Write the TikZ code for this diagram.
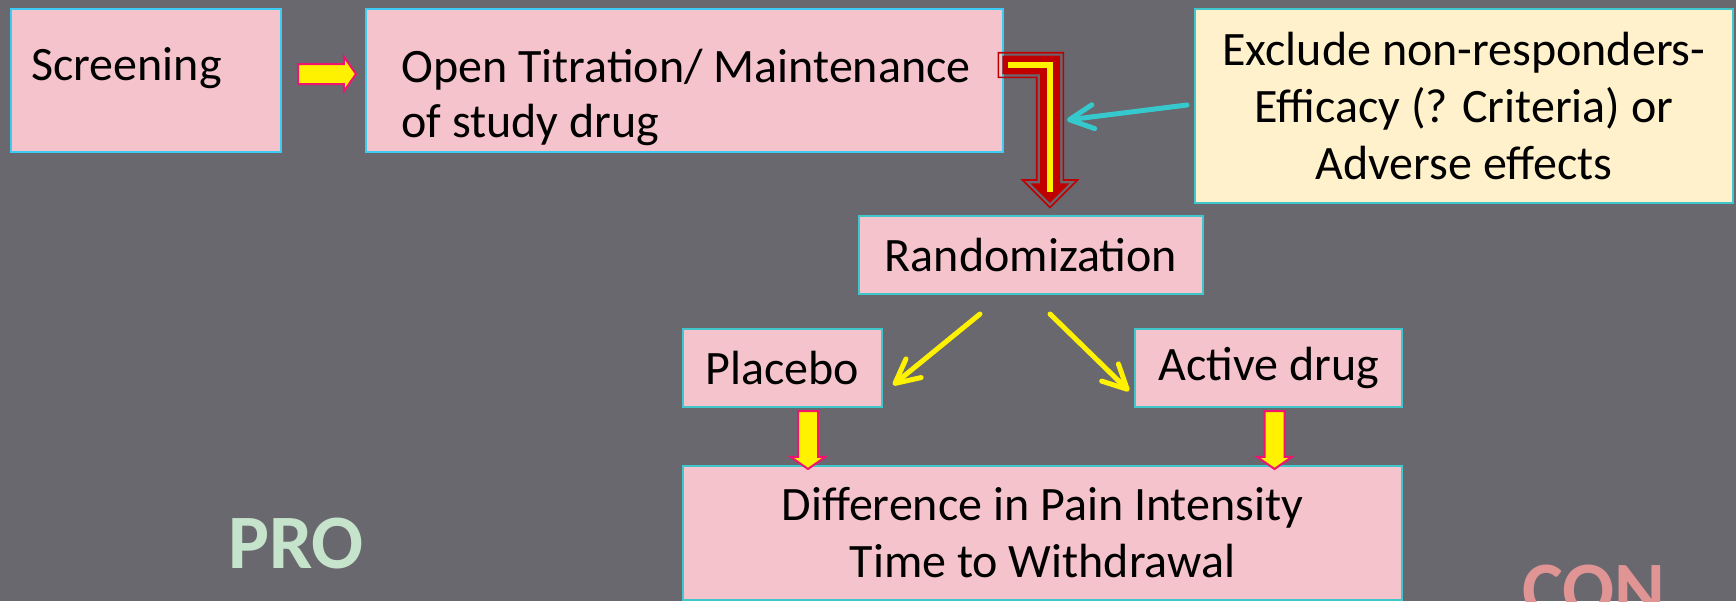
\documentclass[tikz,border=0pt]{standalone}
\usepackage{fontspec}
\setmainfont{Carlito}
\usetikzlibrary{positioning,calc,shapes.arrows,arrows.meta}

\definecolor{slidebg}{HTML}{69686E}
\definecolor{boxpink}{HTML}{F4C3CB}
\definecolor{bluebd}{HTML}{3CCBF4}
\definecolor{tealbd}{HTML}{3FC7CB}
\definecolor{creambox}{HTML}{FFF1CC}
\definecolor{arrpink}{HTML}{F0146E}
\definecolor{bentred}{HTML}{C00000}
\definecolor{linkcyan}{HTML}{35C9CD}
\definecolor{procol}{HTML}{C5E4CB}
\definecolor{concol}{HTML}{E09494}

\tikzset{
  box/.style={draw=tealbd, line width=1pt, fill=boxpink, inner sep=0pt, align=center, font=\fontsize{24}{28.5}\selectfont},
  boxtxt/.style={inner sep=0pt, font=\fontsize{24}{28.5}\selectfont},
  blockarr/.style={single arrow, draw=arrpink, fill=yellow, line width=1pt, inner xsep=0pt, inner ysep=4.5pt, single arrow head extend=3.75pt, single arrow tip angle=110, minimum height=29pt},
  yarr/.style={draw=yellow, line width=2.5pt, line cap=round, -{Straight Barb[round,length=12pt,width=12pt]}},
  carr/.style={draw=linkcyan, line width=2.5pt, line cap=round, -{Straight Barb[round,length=12pt,width=12pt]}},
  side/.style={font=\fontsize{38.5}{40}\selectfont\bfseries, inner sep=0pt, anchor=base}
}

\begin{document}
\begin{tikzpicture}[x=0.5pt,y=-0.5pt]
\useasboundingbox (0,0) rectangle (1736,601);
\fill[slidebg] (0,0) rectangle (1736,601);

%top row
\node[box, draw=bluebd, minimum width=135pt, minimum height=71.5pt] (scr) at (146,80.5) {};
\node[boxtxt, anchor=base west] (scrtxt) at ([xshift=10.5pt]scr.west) {Screening};
\node[box, draw=bluebd, minimum width=318.5pt, minimum height=71.5pt] (open) at (684.5,80.5) {};
\node[boxtxt, anchor=base west, align=left] (opentxt) at ([xshift=18pt,yshift=-28.5pt]open.west) {Open Titration/ Maintenance\\[-1pt]of study drug};
\node[box, fill=creambox, minimum width=269pt, minimum height=97pt] (excl) at (1464,106) {Exclude non-responders-\\Efficacy (? Criteria) or\\Adverse effects};

%middle
\node[box, minimum width=172pt, minimum height=39pt] (rand) at (1031,255) {Randomization};
\node[box, minimum width=99.5pt, minimum height=39pt] (plac) at (782.5,368) {Placebo};
\node[box, minimum width=133.5pt, minimum height=39pt] (act) at (1268.5,368) {Active drug};
\node[box, minimum width=359.5pt, minimum height=67pt] (diff) at (1042.5,533) {Difference in Pain Intensity\\Time to Withdrawal};

%block arrows
\node[blockarr] (a1) at ($(scr.east)!0.5!(open.west)+(0,-6.5)$) {};
\node[blockarr, rotate=-90] (a2) at ($(plac.south)!0.5!(plac.south |- diff.north)+(25.5,0)$) {};
\node[blockarr, rotate=-90] (a3) at ($(act.south)!0.5!(act.south |- diff.north)+(6,0)$) {};

%bent arrow
\draw[bentred, line width=0.8pt] (998.3,52.7) -- (1063.3,52.7) -- (1063.3,180) -- (1077.5,180) -- (1050,207.5) -- (1022.5,180) -- (1036.7,180) -- (1036.7,77.3) -- (998.3,77.3) -- cycle;
\fill[bentred] (1002.3,55.7) -- (1060,55.7) -- (1060,183.3) -- (1069.5,183.3) -- (1050,202.8) -- (1030.5,183.3) -- (1040,183.3) -- (1040,74.3) -- (1002.3,74.3) -- cycle;
\draw[yellow, line width=3pt, line join=miter] (1007.7,64.7) -- (1050,64.7) -- (1050,191.7);

\coordinate (bentside) at (1067,120);
\draw[carr] ($(excl.west)+(-7,-1)$) -- (bentside);

\draw[yarr] ($(rand.south)+(-51,19)$) -- ($(plac.east)+(10,17)$);
\draw[yarr] ($(rand.south)+(19,19)$) -- ($(act.west)+(-5,23)$);

\node[side, text=procol] (pro) at (296,568) {PRO};
\node[side, text=concol] (con) at (1594,615) {CON};

\end{tikzpicture}
\end{document}
